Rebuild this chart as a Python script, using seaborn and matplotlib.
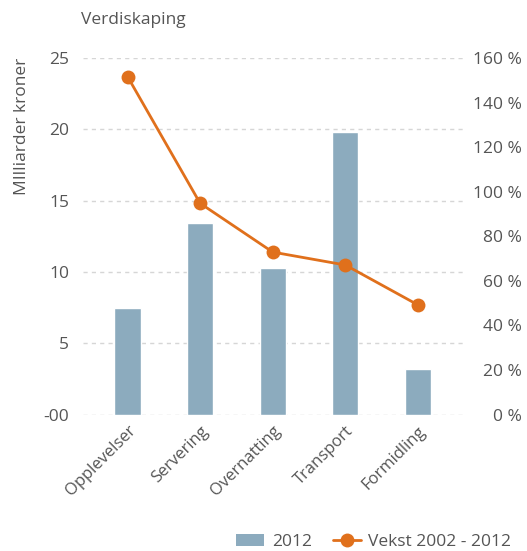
import numpy as np
import pandas as pd
import matplotlib
matplotlib.use('Agg')
import matplotlib.pyplot as plt
from matplotlib.patches import Patch
from matplotlib.lines import Line2D
import seaborn as sns

categories = ['Opplevelser', 'Servering', 'Overnatting', 'Transport', 'Formidling']
value_2012 = [7.5, 13.4, 10.3, 19.8, 3.2]
growth_pct = [151.7, 94.8, 72.9, 67.1, 49.2]
left_ticks = [0, 5, 10, 15, 20, 25]
left_labels = ['-00', '5', '10', '15', '20', '25']
right_ticks = [0, 20, 40, 60, 80, 100, 120, 140, 160]

bar_color = '#8cabbe'
line_color = '#e0701c'
text_color = '#555555'

sns.set_style('white')
plt.rcParams['font.family'] = ['Open Sans', 'DejaVu Sans']

df = pd.DataFrame({'kategori': categories, 'verdi': value_2012, 'vekst': growth_pct})

fig = plt.figure(figsize=(5.27, 5.51), dpi=100)
ax = fig.add_axes([0.1575, 0.2477, 0.723, 0.647])

sns.barplot(data=df, x='kategori', y='verdi', color=bar_color, width=0.36,
            saturation=1, ax=ax, zorder=2)
ax.set_xlim(-0.613, 4.635)
ax.set_ylim(0, 25)
ax.set_yticks(left_ticks)
ax.set_yticklabels(left_labels)
ax.yaxis.grid(True, linestyle=(0, (3, 3)), color='#d6d6d6', linewidth=1)
ax.set_axisbelow(True)
for sp in ax.spines.values():
    sp.set_visible(False)
ax.tick_params(axis='y', length=0, pad=10, labelsize=12.5, labelcolor=text_color)
ax.tick_params(axis='x', length=0, pad=6, labelsize=12, labelcolor=text_color)
ax.set_xlabel('')
ax.set_ylabel('')
for t in ax.get_xticklabels():
    t.set_rotation(45)
    t.set_ha('right')
    t.set_rotation_mode('anchor')

ax2 = ax.twinx()
x_pos = np.arange(len(categories))
sns.lineplot(x=x_pos, y=df['vekst'], ax=ax2, color=line_color, linewidth=2,
             marker='o', markersize=10, markeredgewidth=0, sort=False)
ax2.set_xlim(-0.613, 4.635)
ax2.set_ylim(0, 160)
ax2.set_yticks(right_ticks)
ax2.set_yticklabels([f'{v} %' for v in right_ticks])
ax2.set_ylabel('')
for sp in ax2.spines.values():
    sp.set_visible(False)
ax2.tick_params(axis='y', length=0, pad=42, labelsize=12.5, labelcolor=text_color)
for t in ax2.get_yticklabels():
    t.set_ha('right')

fig.text(81 / 527, 1 - 20 / 551, 'Verdiskaping', fontsize=12.5, color=text_color,
         ha='left', va='center')
fig.text(22 / 527, 1 - 126 / 551, 'MIlliarder kroner', fontsize=12.5, color=text_color,
         rotation=90, ha='center', va='center')

handles = [Patch(facecolor=bar_color, edgecolor='none'),
           Line2D([0], [0], color=line_color, linewidth=2, marker='o',
                  markersize=10, markeredgewidth=0)]
fig.legend(handles, ['2012', 'Vekst 2002 - 2012'], loc='center right',
           bbox_to_anchor=(1.0, 1 - 542 / 551), ncol=2, frameon=False,
           fontsize=12.5, labelcolor=text_color, handlelength=1.6,
           columnspacing=1.2, handletextpad=0.45)

fig.savefig('out.png', dpi=100)
